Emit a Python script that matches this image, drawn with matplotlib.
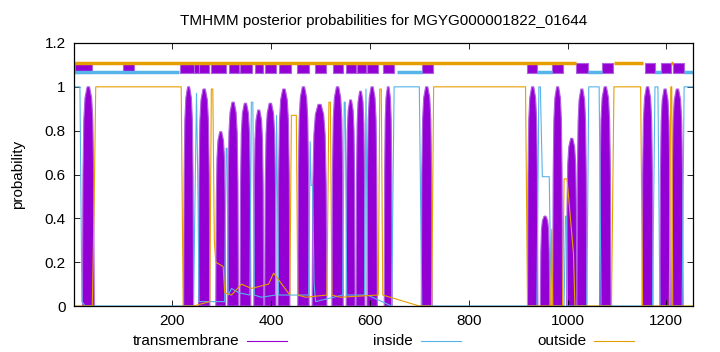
import matplotlib
matplotlib.use("Agg")
import matplotlib.pyplot as plt
from matplotlib.lines import Line2D

plt.rcParams['font.family'] = ['Liberation Sans', 'DejaVu Sans']

seq_len = 1254
title = "TMHMM posterior probabilities for MGYG000001822_01644"

tm_color = "#9400d3"
in_color = "#56b4e9"
out_color = "#e69f00"

# transmembrane peaks: start residue, end residue, peak probability
tm_start = [18, 223, 253, 288, 312, 337, 365, 387, 414, 454, 483, 523, 552, 572,
            594, 629, 704, 919, 945, 970, 998, 1019, 1065, 1151, 1187, 1211]
tm_end = [42, 243, 276, 308, 334, 359, 385, 410, 438, 477, 513, 546, 570, 590,
          615, 645, 726, 940, 964, 990, 1019, 1039, 1088, 1173, 1208, 1234]
tm_height = [1.0, 1.0, 0.99, 0.795, 0.93, 0.925, 0.894, 0.925, 0.99, 1.0, 0.92, 1.0, 0.94, 0.98,
             1.0, 1.0, 1.0, 1.0, 0.41, 1.0, 0.765, 0.99, 1.0, 1.0, 0.99, 0.99]

# inside probability (residue, prob)
inside_x = [1, 13, 17, 24, 243, 246, 249, 252, 254, 306, 309, 311, 313, 320, 335, 357, 360,
            363, 366, 380, 409, 411, 413, 415, 476, 479, 481, 484, 487, 490, 545, 548, 550,
            553, 589, 592, 595, 644, 649, 700, 705, 938, 942, 945, 949, 963, 967, 993, 996,
            998, 1000, 1039, 1043, 1064, 1068, 1172, 1177, 1183, 1187, 1232, 1236, 1254]
inside_y = [1.0, 1.0, 0.02, 0.0, 0.0, 0.5, 0.97, 0.5, 0.02, 0.02, 0.72, 0.72, 0.05, 0.08, 0.06, 0.05, 0.93,
            0.93, 0.05, 0.04, 0.05, 0.87, 0.5, 0.05, 0.05, 0.75, 0.55, 0.55, 0.1, 0.02, 0.05, 0.93, 0.93,
            0.05, 0.05, 0.99, 0.05, 0.0, 1.0, 1.0, 0.0, 0.0, 1.0, 1.0, 0.59, 0.59, 0.0, 0.0, 0.41,
            0.41, 0.0, 0.0, 1.0, 1.0, 0.0, 0.0, 1.0, 1.0, 0.0, 0.0, 1.0, 1.0]

# outside probability (residue, prob)
outside_x = [1, 38, 42, 45, 218, 222, 243, 276, 279, 282, 285, 288, 303, 306, 320, 340, 360,
             395, 405, 438, 441, 451, 454, 470, 513, 517, 520, 523, 540, 617, 620, 623, 626,
             700, 725, 729, 915, 919, 966, 968, 970, 990, 993, 999, 1004, 1012, 1015, 1089,
             1094, 1148, 1152, 1206, 1209, 1211, 1213, 1254]
outside_y = [0.0, 0.0, 0.5, 1.0, 1.0, 0.0, 0.0, 0.02, 0.99, 0.99, 0.3, 0.2, 0.18, 0.06, 0.05, 0.1, 0.08,
             0.1, 0.15, 0.05, 0.87, 0.87, 0.05, 0.04, 0.05, 0.93, 0.93, 0.05, 0.04, 0.05, 0.99, 0.99, 0.05,
             0.0, 0.0, 1.0, 1.0, 0.0, 0.0, 0.35, 0.0, 0.0, 0.58, 0.58, 0.45, 0.24, 0.0, 0.0,
             1.0, 1.0, 0.0, 0.0, 1.0, 1.0, 0.0, 0.0]

# predicted topology shown above the curves
bar_tm_start = [3, 100, 215, 243, 255, 279, 314, 338, 367, 387, 416, 452, 489, 525, 552, 574,
                594, 627, 705, 918, 968, 1017, 1070, 1156, 1190, 1214]
bar_tm_end = [38, 123, 243, 255, 274, 308, 335, 361, 383, 410, 440, 477, 511, 546, 572, 592,
              617, 649, 728, 939, 991, 1041, 1092, 1177, 1209, 1235]
bar_out_start = [1, 1094, 1209]
bar_out_end = [1017, 1153, 1214]
bar_in_start = [1, 654, 939, 1041, 1177, 1235]
bar_in_end = [214, 705, 968, 1070, 1190, 1254]

fig = plt.figure(figsize=(7.2, 3.52), dpi=100)
ax = fig.add_axes([74 / 720, 46 / 352, 619 / 720, 263 / 352])

for s, e, h in zip(tm_start, tm_end, tm_height):
    w = e - s
    xs = [s, s + 0.05 * w, s + 0.12 * w, s + 0.22 * w, s + 0.4 * w, e - 0.4 * w,
          e - 0.22 * w, e - 0.12 * w, e - 0.05 * w, e]
    ys = [0, 0.6 * h, 0.85 * h, 0.95 * h, h, h, 0.95 * h, 0.85 * h, 0.6 * h, 0]
    ax.fill(xs, ys, color=tm_color, lw=0.8, ec="#b060e0")

ax.plot(inside_x, inside_y, color=in_color, lw=0.8)
ax.plot(outside_x, outside_y, color=out_color, lw=0.8)

for s, e in zip(bar_out_start, bar_out_end):
    ax.plot([s, e], [1.11, 1.11], color=out_color, lw=2.5, solid_capstyle="butt")
for s, e in zip(bar_in_start, bar_in_end):
    ax.plot([s, e], [1.068, 1.068], color=in_color, lw=2.5, solid_capstyle="butt")
for s, e in zip(bar_tm_start, bar_tm_end):
    ax.fill_between([s, e], 1.062, 1.107, color=tm_color, lw=0.8, ec="#b060e0")

ax.set_xlim(1, seq_len)
ax.set_ylim(0, 1.2)
ax.set_xticks([200, 400, 600, 800, 1000, 1200])
ax.set_yticks([0, 0.2, 0.4, 0.6, 0.8, 1.0, 1.2])
ax.set_yticklabels(["0", "0.2", "0.4", "0.6", "0.8", "1", "1.2"])
ax.tick_params(direction="in", length=4, width=0.6, top=True, right=True,
               labelsize=11, pad=6, colors="black")
for sp in ax.spines.values():
    sp.set_linewidth(0.9)
ax.set_ylabel("probability", fontsize=11, labelpad=14)
ax.set_title(title, fontsize=11, pad=13)

# legend in gnuplot style: label then line sample
leg_y = 11 / 352
items = [("transmembrane", tm_color, 239), ("inside", in_color, 413), ("outside", out_color, 586)]
for label, col, xr in items:
    fig.text(xr / 720, leg_y, label, ha="right", va="center", fontsize=11)
    fig.add_artist(Line2D([(xr + 8) / 720, (xr + 48) / 720], [leg_y, leg_y], color=col, lw=0.8))

plt.savefig("out.png", dpi=100)
plt.close()
